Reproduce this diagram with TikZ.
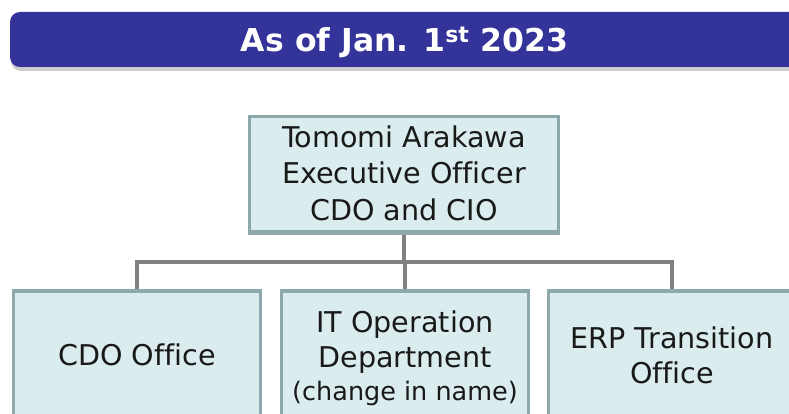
\documentclass[tikz,border=0pt]{standalone}
\usepackage{fontspec}
\setmainfont[Ligatures=NoCommon]{DejaVu Sans}
\usetikzlibrary{shadows}
\definecolor{hdr}{HTML}{333399}
\definecolor{boxfill}{HTML}{DAECEE}
\definecolor{boxline}{HTML}{8DA9AC}
\definecolor{conn}{HTML}{808080}
\tikzset{
  orgbox/.style={draw=boxline, fill=boxfill, line width=3pt, rectangle, inner sep=0pt},
  line28/.style={anchor=base, inner sep=0pt, font=\fontsize{28.6}{34}\selectfont, text=black!90},
  line25/.style={anchor=base, inner sep=0pt, font=\fontsize{25.5}{30}\selectfont, text=black!90},
  connector/.style={draw=conn, line width=4.5pt}
}
\begin{document}
\begin{tikzpicture}[x=1pt,y=-1pt]
\useasboundingbox (0,0) rectangle (789,414);
% header
\node[fill=hdr, rounded corners=10pt, minimum width=800pt, minimum height=55pt, inner sep=0pt,
      drop shadow={shadow xshift=1pt, shadow yshift=-4pt, opacity=0.4}] (header) at (410,39.5) {};
\node[anchor=base, inner sep=0pt, text=white, font=\bfseries\fontsize{31.5}{36}\selectfont] (title) at (404.5,52) {As of Jan. 1\textsuperscript{st} 2023};
% boxes
\node[orgbox, minimum width=309pt, minimum height=115pt] (top) at (404,174) {};
\node[orgbox, minimum width=247pt, minimum height=170pt] (left) at (137,376.5) {};
\node[orgbox, minimum width=247pt, minimum height=170pt] (mid) at (405,376.5) {};
\node[orgbox, minimum width=247pt, minimum height=170pt] (right) at (672,376.5) {};
\coordinate (bar) at (0,262);
% connectors
\draw[connector] (top.south) -- (top.south |- bar);
\draw[connector] (left.north) -- (left.north |- bar) -- (right.north |- bar) -- (right.north);
\draw[connector] (mid.north |- bar) -- (mid.north);
% redraw box borders over connector ends
\draw[boxline, line width=3pt] (top.south west) -- (top.south east);
\draw[boxline, line width=3pt] (left.north west) -- (left.north east);
\draw[boxline, line width=3pt] (mid.north west) -- (mid.north east);
\draw[boxline, line width=3pt] (right.north west) -- (right.north east);
% texts
\node[line28] (t1) at (404,148) {Tomomi Arakawa};
\node[line28] (t2) at (404,184) {Executive Officer};
\node[line28] (t3) at (404,220) {CDO and CIO};
\node[line28] (l1) at (137,365) {CDO Office};
\node[line28] (m1) at (405,332) {IT Operation};
\node[line28] (m2) at (405,367) {Department};
\node[line25] (m3) at (405,400) {(change in name)};
\node[line28] (r1) at (672,348) {ERP Transition};
\node[line28] (r2) at (672,383) {Office};
\end{tikzpicture}
\end{document}
